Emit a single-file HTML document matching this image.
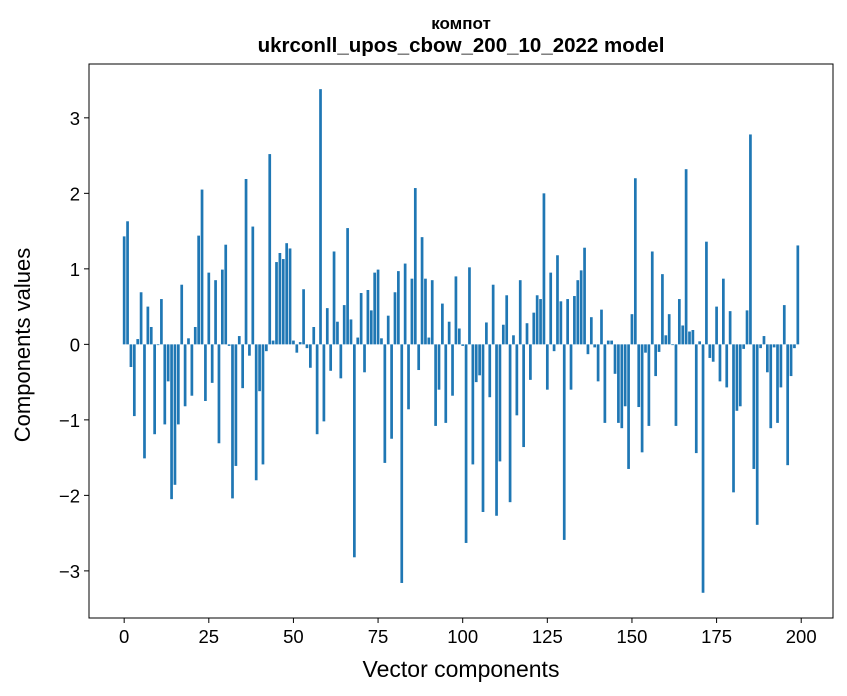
<!DOCTYPE html>
<html><head><meta charset="utf-8"><style>
body{margin:0;background:#fff;}
svg{display:block;font-family:"Liberation Sans","DejaVu Sans",sans-serif;}
</style></head><body>
<svg id="chart" width="847" height="696" xmlns="http://www.w3.org/2000/svg">
<rect width="847" height="696" fill="#fff"/>
<text x="461" y="29" text-anchor="middle" font-size="17" font-weight="bold">компот</text>
<text x="461" y="52" text-anchor="middle" font-size="20.5" font-weight="bold">ukrconll_upos_cbow_200_10_2022 model</text>
<g id="bars"></g>
<g id="axes"></g>
<rect x="89" y="64" width="744" height="554" fill="none" stroke="#000" stroke-width="1"/>
<text x="461" y="677" text-anchor="middle" font-size="23">Vector components</text>
<text transform="translate(30,345) rotate(-90)" text-anchor="middle" font-size="22">Components values</text>
</svg>
<script>
const values = [1.43,1.63,-0.30,-0.95,0.07,0.69,-1.51,0.50,0.23,-1.19,-0.01,0.60,-1.06,-0.49,-2.05,-1.86,-1.06,0.79,-0.82,0.08,-0.68,0.23,1.44,2.05,-0.75,0.95,-0.51,0.85,-1.31,0.99,1.32,-0.02,-2.04,-1.61,0.11,-0.58,2.19,-0.15,1.56,-1.80,-0.62,-1.59,-0.09,2.52,0.05,1.09,1.21,1.13,1.34,1.27,0.05,-0.11,0.03,0.73,-0.05,-0.31,0.23,-1.19,3.38,-1.02,0.48,-0.35,1.23,0.30,-0.45,0.52,1.54,0.33,-2.82,0.09,0.68,-0.37,0.72,0.45,0.95,0.99,0.08,-1.57,0.38,-1.25,0.69,0.97,-3.16,1.07,-0.86,0.87,2.07,-0.34,1.42,0.87,0.09,0.85,-1.08,-0.60,0.54,-1.04,0.30,-0.68,0.90,0.21,-0.02,-2.63,1.02,-1.59,-0.50,-0.41,-2.22,0.29,-0.70,0.79,-2.27,-1.55,0.26,0.65,-2.09,0.12,-0.94,0.85,-1.36,0.28,-0.47,0.42,0.65,0.60,2.00,-0.60,0.95,-0.09,1.18,0.57,-2.59,0.60,-0.60,0.64,0.85,0.98,1.28,-0.13,0.36,-0.04,-0.49,0.46,-1.04,0.05,0.05,-0.39,-1.04,-1.11,-0.82,-1.65,0.40,2.20,-0.83,-1.43,-0.11,-1.08,1.23,-0.42,-0.10,0.93,0.12,0.40,-0.01,-1.08,0.60,0.25,2.32,0.17,0.19,-1.44,0.04,-3.29,1.36,-0.18,-0.23,0.50,-0.49,0.87,-0.57,0.44,-1.96,-0.88,-0.82,-0.06,0.45,2.78,-1.65,-2.39,-0.05,0.11,-0.37,-1.11,-0.04,-1.04,-0.57,0.52,-1.60,-0.42,-0.05,1.31];
const xTicks = [0,25,50,75,100,125,150,175,200];
const yTicks = [-3,-2,-1,0,1,2,3];
const yTickLabels = ["\u22123","\u22122","\u22121","0","1","2","3"];

const L=89,R=833,T=64,B=618;
const xMin=-10.39,xMax=209.39,yMin=-3.624,yMax=3.713;
function xs(v){return L+(v-xMin)/(xMax-xMin)*(R-L);}
function ys(v){return B-(v-yMin)/(yMax-yMin)*(B-T);}
const NS="http://www.w3.org/2000/svg";
const gb=document.getElementById('bars');
values.forEach((v,i)=>{
  const r=document.createElementNS(NS,'rect');
  const x0=xs(i-0.4),x1=xs(i+0.4);
  const y0=ys(Math.max(v,0)),y1=ys(Math.min(v,0));
  r.setAttribute('x',x0);r.setAttribute('width',x1-x0);
  r.setAttribute('y',y0);r.setAttribute('height',Math.max(y1-y0,0.1));
  r.setAttribute('fill','#1f77b4');
  
  
  gb.appendChild(r);
});
const ga=document.getElementById('axes');
xTicks.forEach(t=>{
  const x=xs(t);
  const l=document.createElementNS(NS,'line');
  l.setAttribute('x1',x);l.setAttribute('x2',x);l.setAttribute('y1',B);l.setAttribute('y2',B+5);
  l.setAttribute('stroke','#000');
  
  
  ga.appendChild(l);
  const tx=document.createElementNS(NS,'text');
  tx.setAttribute('x',x);tx.setAttribute('y',B+25);tx.setAttribute('text-anchor','middle');tx.setAttribute('font-size','18.5');
  tx.textContent=t;
  
  
  ga.appendChild(tx);
});
yTicks.forEach((t,i)=>{
  const y=ys(t);
  const l=document.createElementNS(NS,'line');
  l.setAttribute('x1',L-5);l.setAttribute('x2',L);l.setAttribute('y1',y);l.setAttribute('y2',y);
  l.setAttribute('stroke','#000');
  
  
  ga.appendChild(l);
  const tx=document.createElementNS(NS,'text');
  tx.setAttribute('x',L-9);tx.setAttribute('y',y+7);tx.setAttribute('text-anchor','end');tx.setAttribute('font-size','18.5');
  tx.textContent=yTickLabels[i];
  
  
  ga.appendChild(tx);
});
</script>
</body></html>
